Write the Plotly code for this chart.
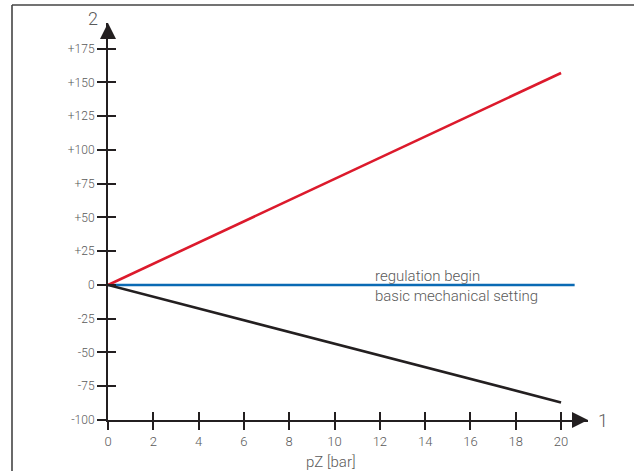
import plotly.graph_objects as go

# ---- data ----
pz = [0, 20]
upper_curve = [0, 157]
lower_curve = [0, -87]
base_x = [0, 20.6]
base_y = [0, 0]

x_ticks = [0, 2, 4, 6, 8, 10, 12, 14, 16, 18, 20]
y_ticks = [-100, -75, -50, -25, 0, 25, 50, 75, 100, 125, 150, 175]
y_tick_text = ["-100", "-75", "-50", "-25", "0", "+25", "+50", "+75", "+100", "+125", "+150", "+175"]

X_RANGE = [0, 21.19]
Y_RANGE = [-100, 194]

FONT = "Roboto, sans-serif"
INK = "#231f20"
GREY = "#5a5a5a"

fig = go.Figure()
fig.add_trace(go.Scatter(x=base_x, y=base_y, mode="lines",
                         line=dict(color="#0a6ab4", width=2.6), hoverinfo="skip"))
fig.add_trace(go.Scatter(x=pz, y=upper_curve, mode="lines",
                         line=dict(color="#dc1a2c", width=2.6), hoverinfo="skip"))
fig.add_trace(go.Scatter(x=pz, y=lower_curve, mode="lines",
                         line=dict(color=INK, width=2.6), hoverinfo="skip"))

axis_common = dict(showgrid=False, zeroline=False)
fig.update_layout(
    width=634, height=471,
    margin=dict(l=108, r=46, t=23, b=51),
    paper_bgcolor="white", plot_bgcolor="white",
    showlegend=False,
    font=dict(family=FONT, color=GREY, weight=300),
    xaxis=dict(range=X_RANGE, tickmode="array", tickvals=x_ticks,
               ticks="outside", ticklen=8, tickwidth=1.5, tickcolor=INK,
               showline=True, linecolor=INK, linewidth=2,
               tickfont=dict(size=13, color=GREY, family=FONT, weight=300), **axis_common),
    xaxis2=dict(range=X_RANGE, overlaying="x", anchor="y", side="bottom",
                tickmode="array", tickvals=x_ticks, ticks="inside", ticklen=8,
                tickwidth=1.5, tickcolor=INK, showticklabels=False, showline=False,
                **axis_common),
    yaxis=dict(range=Y_RANGE, tickmode="array", tickvals=y_ticks, ticktext=y_tick_text,
               ticks="outside", ticklen=9, tickwidth=1.5, tickcolor=INK,
               showline=True, linecolor=INK, linewidth=2,
               tickfont=dict(size=12, color=GREY, family=FONT, weight=300), **axis_common),
    yaxis2=dict(range=Y_RANGE, overlaying="y", anchor="x", side="left",
                tickmode="array", tickvals=y_ticks, ticks="inside", ticklen=8,
                tickwidth=1.5, tickcolor=INK, showticklabels=False, showline=False,
                **axis_common),
)
# invisible trace to activate overlay axes
fig.add_trace(go.Scatter(x=[None], y=[None], xaxis="x2", yaxis="y2", hoverinfo="skip"))

# frame (left and top border)
PLOT_W = 634 - 108 - 46
PLOT_H = 471 - 23 - 51
fx = (12 - 108) / PLOT_W
fy = 1 + (23 - 5) / PLOT_H
fig.add_shape(type="line", xref="paper", yref="paper", x0=fx, x1=fx, y0=fy, y1=-0.3,
              line=dict(color="#444444", width=1.6))
fig.add_shape(type="line", xref="paper", yref="paper", x0=fx, x1=1.2, y0=fy, y1=fy,
              line=dict(color="#444444", width=1.6))

# axis arrowheads
fig.add_annotation(x=0, y=Y_RANGE[1], xref="x", yref="y", text="", showarrow=True,
                   ax=0, ay=16, arrowhead=2, arrowsize=1.6, arrowwidth=2, arrowcolor=INK,
                   standoff=0)
fig.add_annotation(x=X_RANGE[1], y=Y_RANGE[0], xref="x", yref="y", text="", showarrow=True,
                   ax=-16, ay=0, arrowhead=2, arrowsize=1.6, arrowwidth=2, arrowcolor=INK,
                   standoff=0)

# axis labels
fig.add_annotation(x=0, y=Y_RANGE[1], xref="x", yref="y", text="2", showarrow=False,
                   xanchor="right", yanchor="bottom", xshift=-8, yshift=-8,
                   font=dict(size=18, color=GREY, family=FONT, weight=300))
fig.add_annotation(x=X_RANGE[1], y=Y_RANGE[0], xref="x", yref="y", text="1", showarrow=False,
                   xanchor="left", yanchor="middle", xshift=8,
                   font=dict(size=18, color=GREY, family=FONT, weight=300))
fig.add_annotation(x=9.85, y=Y_RANGE[0], xref="x", yref="y", text="pZ [bar]", showarrow=False,
                   xanchor="center", yanchor="top", yshift=-31,
                   font=dict(size=15, color=GREY, family=FONT, weight=300))

# line labels
fig.add_annotation(x=11.7, y=0, xref="x", yref="y", text="regulation begin", showarrow=False,
                   xanchor="left", yanchor="bottom", yshift=-2,
                   font=dict(size=15, color=GREY, family=FONT, weight=300))
fig.add_annotation(x=11.7, y=0, xref="x", yref="y", text="basic mechanical setting", showarrow=False,
                   xanchor="left", yanchor="top", yshift=0,
                   font=dict(size=15, color=GREY, family=FONT, weight=300))

fig.write_html("out.html", config={"displayModeBar": False},
               post_script="document.body.style.margin='0px';")
